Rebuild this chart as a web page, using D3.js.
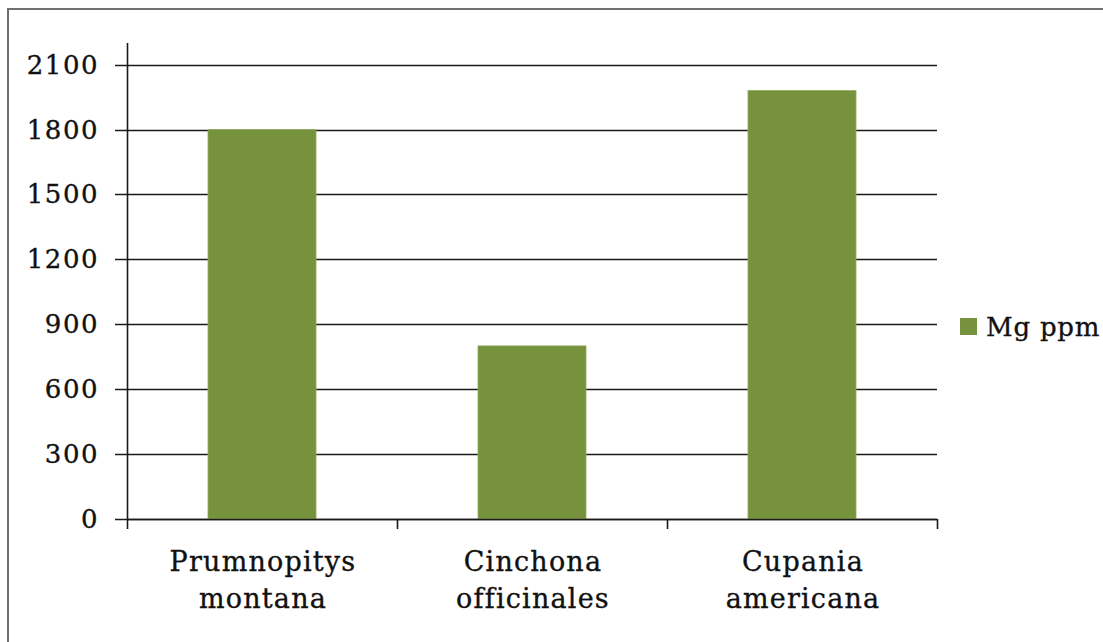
<!DOCTYPE html>
<html lang="en">
<head>
<meta charset="UTF-8">
<title>Mg ppm</title>
<script src="https://d3js.org/d3.v7.min.js"></script>
<style>
    body { margin: 0; background: #fff; }
    svg { display: block; }
    .tick-label, .cat-label, .legend {
        font-family: "DejaVu Serif", serif;
        fill: #111;
        stroke: #111;
        stroke-width: 0.35px;
    }
</style>
</head>
<body>
<svg width="1103" height="642"></svg>
<script>
    // data
    const categories = [["Prumnopitys", "montana"], ["Cinchona", "officinales"], ["Cupania", "americana"]];
    const values = [1800, 800, 1980];
    const yTicks = [0, 300, 600, 900, 1200, 1500, 1800, 2100];
    const seriesName = "Mg ppm";

    const svg = d3.select("svg");
    const barColor = "#76923c";

    // outer frame
    svg.append("rect")
        .attr("x", 8).attr("y", 9)
        .attr("width", 1110).attr("height", 650)
        .attr("fill", "none")
        .attr("stroke", "#707070")
        .attr("stroke-width", 2);

    const plotL = 127, plotR = 937, plotT = 43, plotB = 519;

    const x = d3.scaleBand()
        .domain(d3.range(categories.length))
        .range([plotL, plotR])
        .padding(0);

    const y = d3.scaleLinear()
        .domain([0, 2200])
        .range([plotB, plotT]);

    // gridlines
    svg.append("g")
        .selectAll("line")
        .data(yTicks)
        .enter().append("line")
        .attr("x1", plotL - 12)
        .attr("x2", plotR)
        .attr("y1", d => Math.round(y(d)) + 0.5)
        .attr("y2", d => Math.round(y(d)) + 0.5)
        .attr("stroke", "#1a1a1a")
        .attr("stroke-width", 1.6);

    // bars
    const barW = x.bandwidth() * 0.4;
    svg.append("g")
        .selectAll("rect")
        .data(values)
        .enter().append("rect")
        .attr("x", (d, i) => x(i) + (x.bandwidth() - barW) / 2)
        .attr("y", d => y(d))
        .attr("width", barW)
        .attr("height", d => y(0) - y(d))
        .attr("fill", barColor)
        .attr("stroke", "#8faa5a")
        .attr("stroke-width", 0.8);

    // baseline over bars
    svg.append("line")
        .attr("x1", plotL).attr("x2", plotR)
        .attr("y1", y(0) + 0.5).attr("y2", y(0) + 0.5)
        .attr("stroke", "#1a1a1a").attr("stroke-width", 1.6);

    // y axis line
    svg.append("line")
        .attr("x1", plotL + 0.5).attr("x2", plotL + 0.5)
        .attr("y1", plotT).attr("y2", plotB + 10)
        .attr("stroke", "#1a1a1a").attr("stroke-width", 1.6);

    // x tick marks at band edges
    const edges = d3.range(categories.length + 1).map(i => plotL + i * x.step());
    svg.append("g")
        .selectAll("line")
        .data(edges.slice(1))
        .enter().append("line")
        .attr("x1", d => d + 0.5).attr("x2", d => d + 0.5)
        .attr("y1", plotB).attr("y2", plotB + 10)
        .attr("stroke", "#1a1a1a").attr("stroke-width", 1.6);

    // y tick labels
    svg.append("g")
        .selectAll("text")
        .data(yTicks)
        .enter().append("text")
        .attr("class", "tick-label")
        .attr("x", 99)
        .attr("y", d => y(d) + 9)
        .attr("text-anchor", "end")
        .style("font-size", "26px")
        .style("letter-spacing", "1.5px")
        .text(d => d);

    // category labels
    const cat = svg.append("g")
        .selectAll("text")
        .data(categories)
        .enter().append("text")
        .attr("class", "cat-label")
        .attr("x", (d, i) => x(i) + x.bandwidth() / 2 + 1)
        .attr("y", 571)
        .attr("text-anchor", "middle")
        .style("font-size", "27px")
        .style("letter-spacing", "1.2px");
    cat.selectAll("tspan")
        .data(d => d)
        .enter().append("tspan")
        .attr("x", function() { return this.parentNode.getAttribute("x"); })
        .attr("dy", (d, i) => i === 0 ? 0 : 37)
        .text(d => d);

    // legend
    svg.append("rect")
        .attr("x", 960).attr("y", 318)
        .attr("width", 17).attr("height", 17)
        .attr("fill", barColor);
    svg.append("text")
        .attr("class", "legend")
        .attr("x", 986).attr("y", 336)
        .style("font-size", "26px")
        .style("letter-spacing", "0.8px")
        .text(seriesName);
</script>
</body>
</html>
